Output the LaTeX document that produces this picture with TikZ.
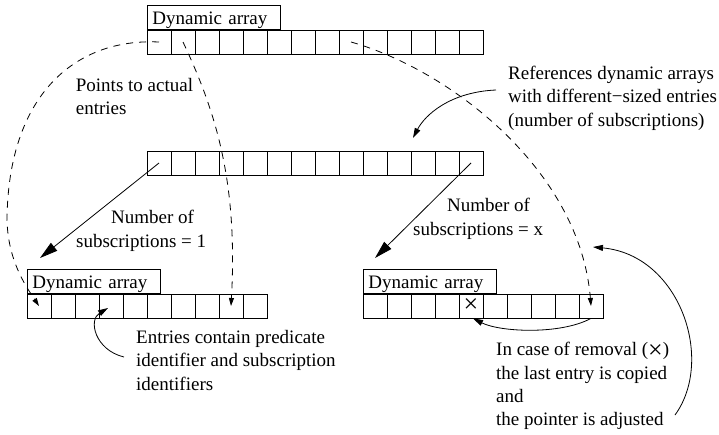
\documentclass[tikz,border=0pt]{standalone}
\usepackage{fontspec}
\setmainfont{Liberation Serif}
\usetikzlibrary{arrows.meta}
\newcommand{\crossmark}{{\fontsize{26}{26}\selectfont ×}}
\newcommand{\textcross}{\raisebox{-2.5pt}{\crossmark}}
\begin{document}
\begin{tikzpicture}[x=1pt,y=-1pt,
  every node/.style={font=\fontsize{19}{23}\selectfont},
  cell/.style={draw,line width=0.8pt,minimum width=24pt,minimum height=24pt,inner sep=0pt},
  labelbox/.style={draw,line width=0.8pt,anchor=south west,text width=122.5pt,align=left,
    inner xsep=5pt,inner ysep=2.5pt,text height=16.5pt,text depth=2.5pt},
  txt/.style={anchor=base west,inner sep=0pt,align=left},
  bigarrow/.style={line width=0.8pt,-{Triangle[length=18pt,width=10pt]}},
  smallarrow/.style={line width=0.8pt,-{Triangle[length=10pt,width=6pt]}},
  dasharrow/.style={line width=0.8pt,dash pattern=on 7pt off 6pt,-{Triangle[length=8pt,width=5pt]}}]
\useasboundingbox (0,0) rectangle (719,434);
% arrays
\foreach \i in {0,...,13} {
  \node[cell] (t\i) at ({159+24*\i},42) {};
  \node[cell] (m\i) at ({159+24*\i},163) {};
}
\foreach \i in {0,...,9} {
  \node[cell] (bl\i) at ({39+24*\i},306) {};
}
\foreach \i in {0,1,2,3,5,6,7,8,9} {
  \node[cell] (br\i) at ({375+24*\i},306) {};
}
\node[cell] (br4) at (471,306) {\crossmark};
% labels
\node[labelbox] (lt) at (147,30) {Dynamic array};
\node[labelbox] (lbl) at (27,294) {Dynamic array};
\node[labelbox] (lbr) at (363,294) {Dynamic array};
% texts (anchor = baseline of the last line)
\node[txt,font=\fontsize{19}{22.3}\selectfont] (points) at (75.7,114) {Points to actual\\entries};
\node[txt,font=\fontsize{19}{23.5}\selectfont] (refs) at (508,126) {References dynamic arrays\\with different−sized entries\\(number of subscriptions)};
\node[txt] (n1a) at (111,223) {Number of};
\node[txt] (n1b) at (76,247) {subscriptions = 1};
\node[txt] (nxa) at (447,211) {Number of};
\node[txt] (nxb) at (413,235) {subscriptions = x};
\node[txt,font=\fontsize{19}{23.4}\selectfont] (entries) at (136,390) {Entries contain predicate\\identifier and subscription\\identifiers};
\node[txt,font=\fontsize{19}{23.3}\selectfont] (removal) at (496,425.6) {In case of removal (\textcross)\\the last entry is copied\\and\\the pointer is adjusted};
% coordinates
\coordinate (a1) at (40,258);
\coordinate (ax) at (375,258);
\coordinate (rs) at (496,90);
\coordinate (rt) at (413,138);
\coordinate (es) at (124,357);
\coordinate (et) at (108,308);
\coordinate (ps) at (675,415);
\coordinate (pt) at (593,247);
% dashed pointers
\draw[dasharrow] (t0.center) .. controls (75,38) and (8,95) .. (7,220) .. controls (8,260) and (25,285) .. (bl0.center);
\draw[dasharrow] (t1.center) .. controls (215,110) and (238,180) .. (bl8.center);
\draw[dasharrow] (t8.center) .. controls (450,70) and (580,170) .. (br9.center);
% solid arrows
\draw[bigarrow] (m0.center) -- (a1);
\draw[bigarrow] (m13.center) -- (ax);
\draw[smallarrow] (rs) .. controls (450,92) and (425,115) .. (rt);
\draw[smallarrow] (es) .. controls (95,350) and (88,320) .. (et);
\draw[smallarrow] (br9.south) .. controls (560,335) and (500,332) .. ([xshift=2pt]br4.south);
\draw[smallarrow] (ps) .. controls (715,360) and (680,255) .. (pt);
\end{tikzpicture}
\end{document}
